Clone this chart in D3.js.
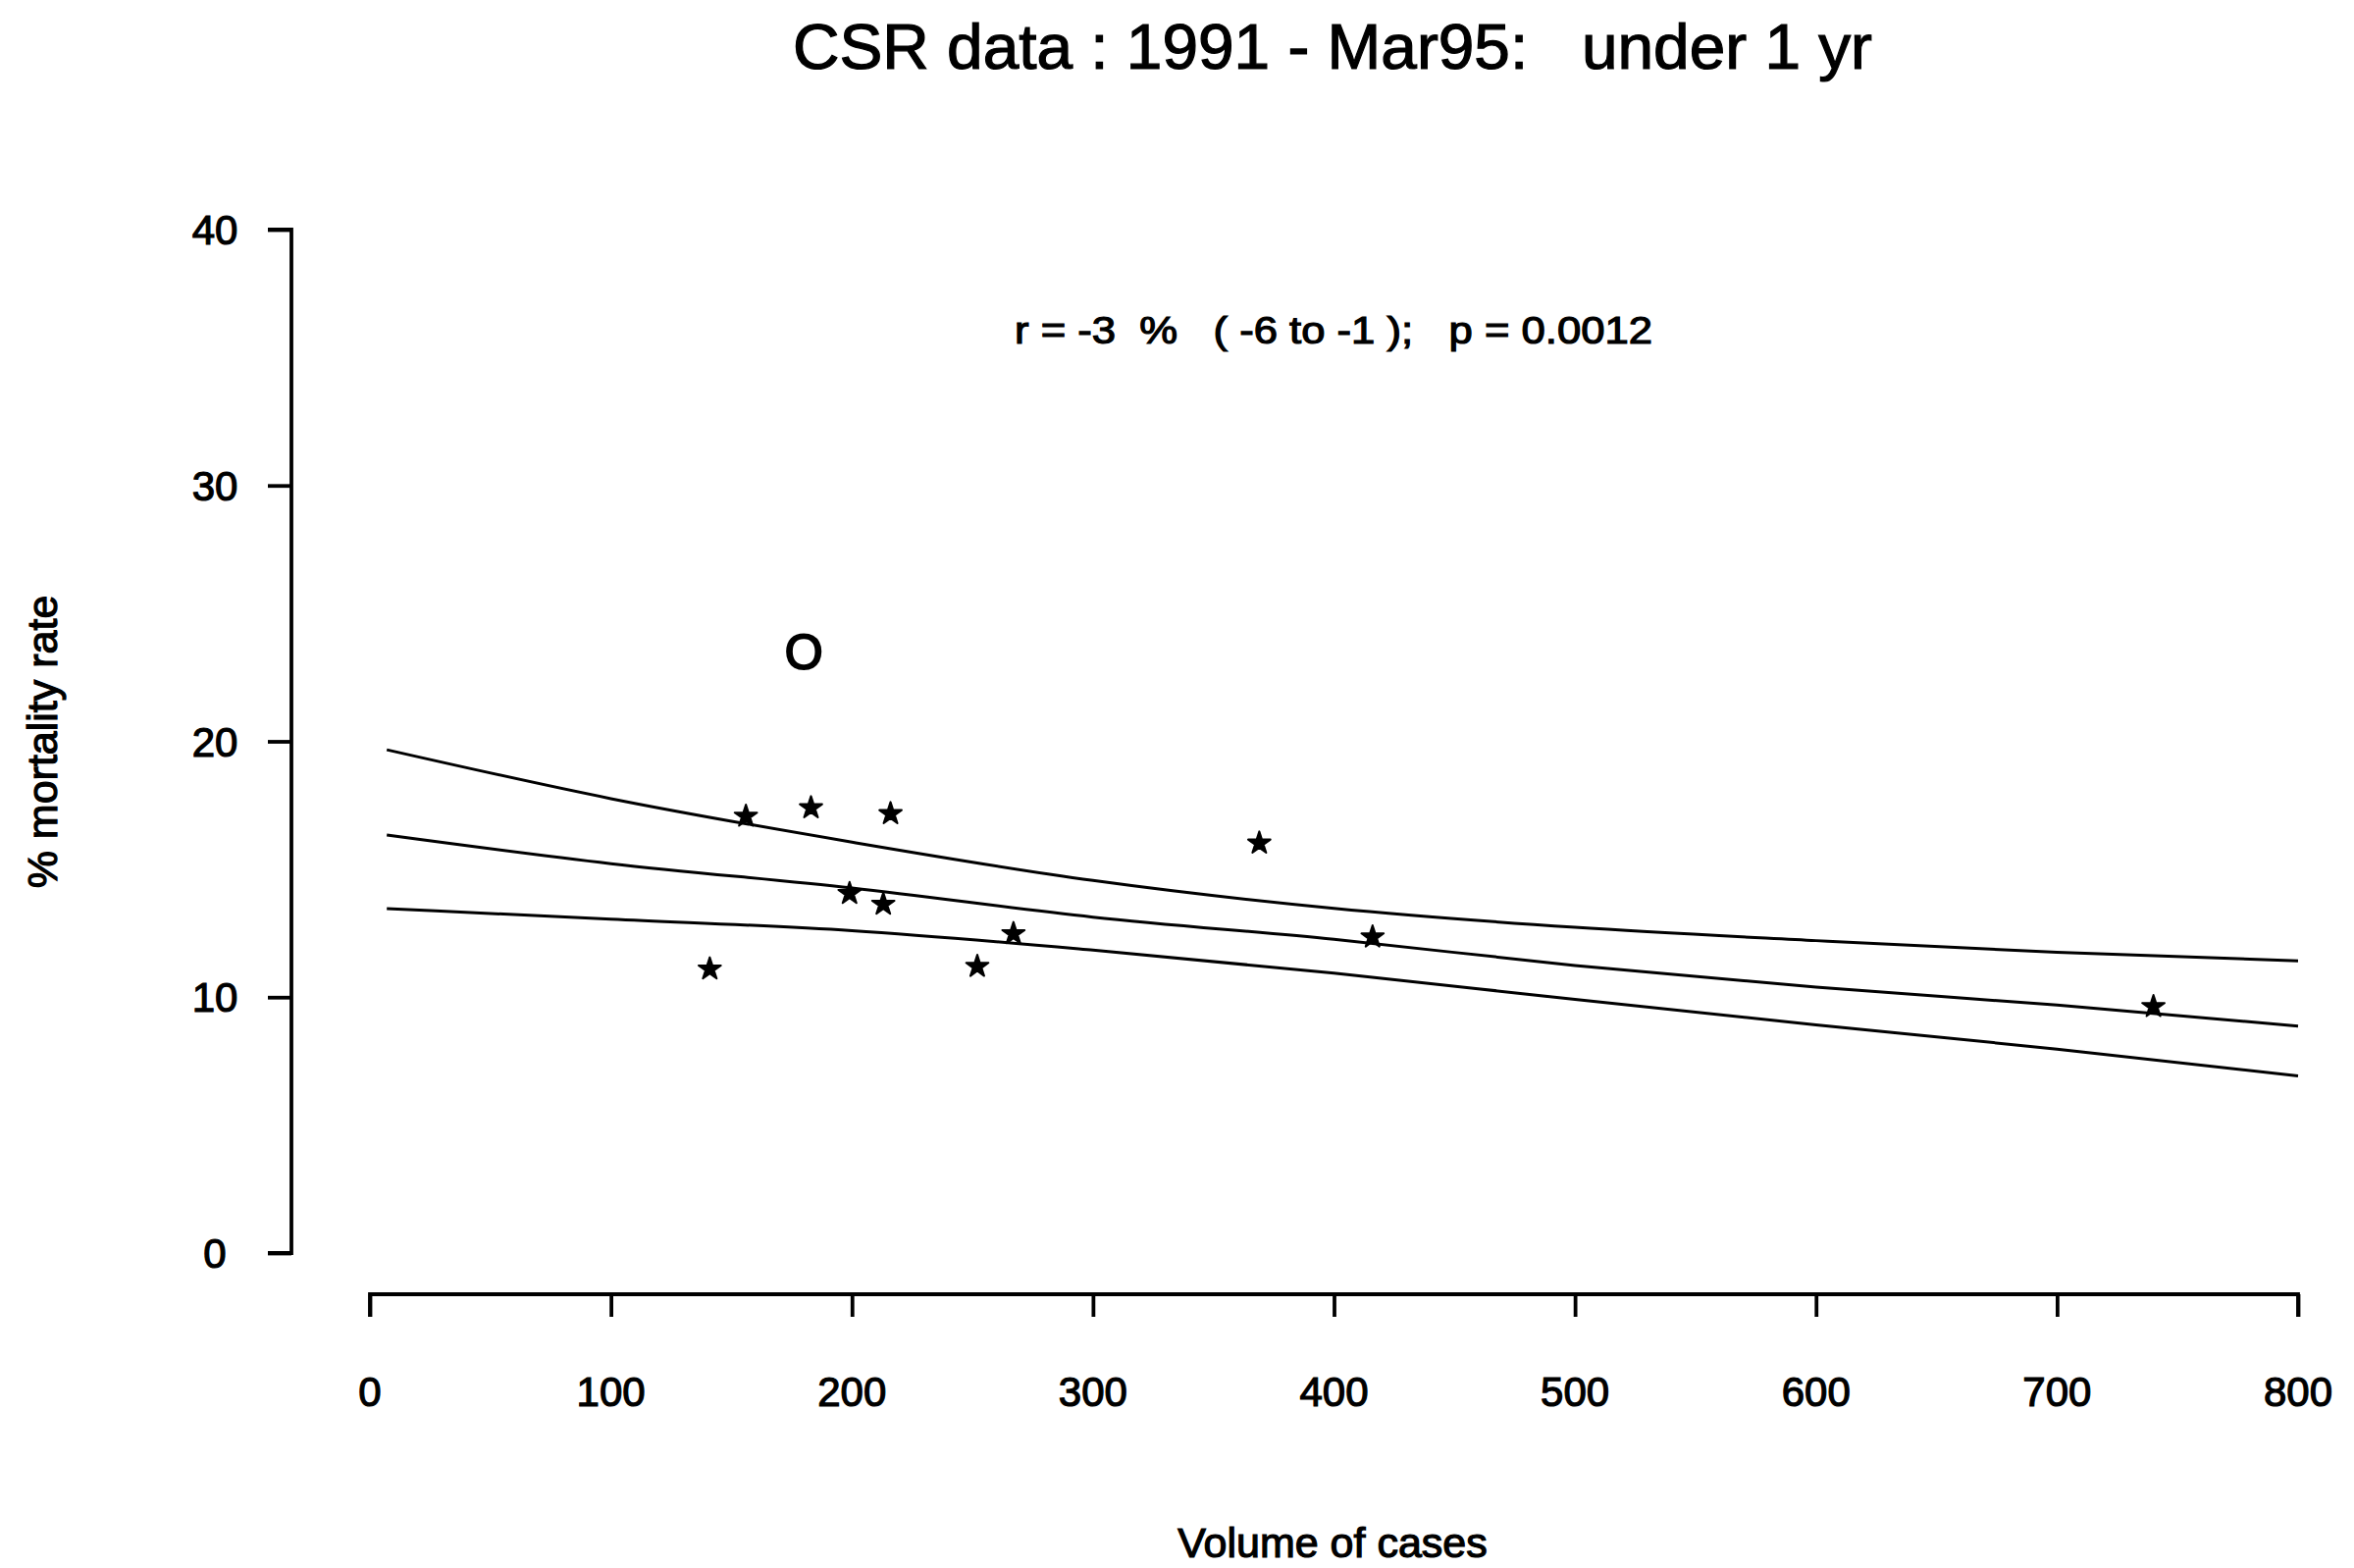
<!DOCTYPE html>
<html>
<head>
<meta charset="utf-8">
<script src="https://cdn.jsdelivr.net/npm/d3@7"></script>
<style>
  html, body { margin: 0; padding: 0; background: #fff; }
  svg { display: block; }
  text { font-family: "Liberation Sans", Arial, Helvetica, sans-serif; fill: #000; stroke: #000; stroke-width: 1.2px; white-space: pre; }
</style>
</head>
<body>
<svg id="chart" width="2399" height="1598"></svg>
<script>
// ---- data ----
const title = "CSR data : 1991 - Mar95:   under 1 yr";
const annotation = "r = -3  %   ( -6 to -1 );   p = 0.0012";
const xLabel = "Volume of cases";
const yLabel = "% mortality rate";

const xTicks = [0, 100, 200, 300, 400, 500, 600, 700, 800];
const yTicks = [0, 10, 20, 30, 40];

// hospital points (stars)
const pointVolume = [141, 156, 183, 199, 213, 216, 252, 267, 369, 416, 740];
const pointRate   = [11.1, 17.07, 17.4, 14.05, 13.63, 17.17, 11.2, 12.48, 16.02, 12.35, 9.63];

// outlier (O)
const outlierVolume = [180];
const outlierRate   = [23.5];

// fitted line and confidence limits
const fitVolume = [7, 100, 200, 300, 400, 500, 600, 700, 800];
const fitUpper  = [19.67, 17.76, 16.06, 14.56, 13.47, 12.73, 12.21, 11.75, 11.42];
const fitMid    = [16.34, 15.22, 14.27, 13.13, 12.26, 11.24, 10.39, 9.69, 8.87];
const fitLower  = [13.46, 13.05, 12.60, 11.84, 10.94, 9.91, 8.92, 7.97, 6.92];

// ---- drawing ----
const svg = d3.select("#chart");
const x = d3.scaleLinear().domain([0, 800]).range([377, 2342]);
const y = d3.scaleLinear().domain([0, 40]).range([1277, 234]);

const axisW = 3.8;

// y axis
const yAxis = d3.axisLeft(y).tickValues(yTicks).tickSize(24).tickPadding(0).tickFormat("");
const gy = svg.append("g").attr("transform", "translate(297,0)").call(yAxis);
gy.select(".domain").attr("d", `M-24,${y(40)}H0V${y(0)}H-24`).attr("stroke-width", axisW).attr("fill", "none");
gy.selectAll(".tick line").attr("stroke-width", axisW);
svg.append("g").selectAll("text").data(yTicks).join("text")
  .attr("x", 219).attr("y", d => y(d) + 15)
  .attr("text-anchor", "middle").attr("font-size", 42)
  .text(d => d);

// x axis
const xAxis = d3.axisBottom(x).tickValues(xTicks).tickSize(23).tickPadding(0).tickFormat("");
const gx = svg.append("g").attr("transform", "translate(0,1319)").call(xAxis);
gx.select(".domain").attr("d", `M${x(0)},23V0H${x(800)}V23`).attr("stroke-width", axisW).attr("fill", "none");
gx.selectAll(".tick line").attr("stroke-width", axisW);
svg.append("g").selectAll("text").data(xTicks).join("text")
  .attr("x", d => x(d)).attr("y", 1433)
  .attr("text-anchor", "middle").attr("font-size", 42)
  .text(d => d);

// lines
const line = d3.line().x(d => x(d[0])).y(d => y(d[1])).curve(d3.curveMonotoneX);
[fitUpper, fitMid, fitLower].forEach(series => {
  svg.append("path")
    .datum(fitVolume.map((v, i) => [v, series[i]]))
    .attr("d", line)
    .attr("fill", "none").attr("stroke", "#000").attr("stroke-width", 3);
});

// star points
const star = d3.symbol().type(d3.symbolStar).size(160);
svg.append("g").selectAll("path").data(pointVolume.map((v, i) => [v, pointRate[i]])).join("path")
  .attr("transform", d => `translate(${x(d[0])},${y(d[1])})`)
  .attr("d", star).attr("fill", "#000").attr("stroke", "#000").attr("stroke-width", 2)
  .attr("stroke-linejoin", "round");

// outlier
svg.append("g").selectAll("text").data(outlierVolume.map((v, i) => [v, outlierRate[i]])).join("text")
  .attr("x", d => x(d[0])).attr("y", d => y(d[1]) + 18)
  .attr("text-anchor", "middle").attr("font-size", 50).style("stroke-width", "2px")
  .text("O");

// title
svg.append("text").attr("x", 1358).attr("y", 70).attr("text-anchor", "middle")
  .attr("font-size", 64).attr("textLength", 1100).attr("lengthAdjust", "spacingAndGlyphs")
  .text(title);

// annotation
svg.append("text").attr("x", 1034).attr("y", 350)
  .attr("font-size", 39).attr("textLength", 650).attr("lengthAdjust", "spacingAndGlyphs")
  .text(annotation);

// axis labels
svg.append("text").attr("x", 1358).attr("y", 1587).attr("text-anchor", "middle")
  .attr("font-size", 43).text(xLabel);
svg.append("text").attr("transform", "translate(58,756) rotate(-90)").attr("text-anchor", "middle")
  .attr("font-size", 43).text(yLabel);
</script>
</body>
</html>
